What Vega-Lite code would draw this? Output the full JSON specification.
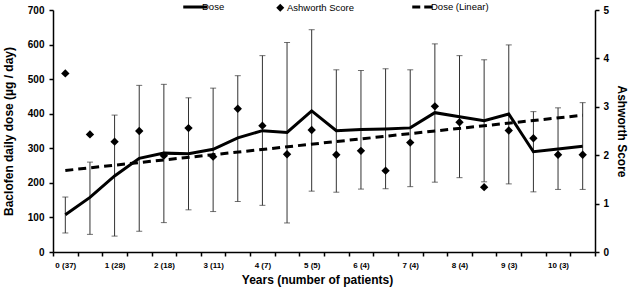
{
  "$schema": "https://vega.github.io/schema/vega-lite/v6.json",
  "width": 542,
  "height": 242,
  "autosize": {"type": "none"},
  "padding": {"left": 53, "top": 10, "right": 35, "bottom": 37},
  "background": "white",
  "config": {
    "view": {"stroke": null},
    "font": "Liberation Sans",
    "axis": {
      "grid": false,
      "domainColor": "black",
      "domainWidth": 1.5,
      "tickColor": "black",
      "tickWidth": 1.5,
      "tickSize": 4,
      "labelColor": "black",
      "labelFont": "Liberation Sans",
      "labelFontWeight": "bold",
      "labelOverlap": false,
      "labelFlush": false,
      "titleFont": "Liberation Sans",
      "titleFontWeight": "bold",
      "titleColor": "black",
      "titleFontSize": 12
    },
    "axisY": {"labelFontSize": 10}
  },
  "data": {
    "values": [
      {"idx": 0, "dose": 108, "low": 55, "high": 159, "ashworth": 3.69},
      {"idx": 1, "dose": 158, "low": 51, "high": 260, "ashworth": 2.43},
      {"idx": 2, "dose": 220, "low": 46, "high": 396, "ashworth": 2.28},
      {"idx": 3, "dose": 271, "low": 60, "high": 482, "ashworth": 2.5},
      {"idx": 4, "dose": 286, "low": 85, "high": 485, "ashworth": 1.99},
      {"idx": 5, "dose": 284, "low": 122, "high": 446, "ashworth": 2.56},
      {"idx": 6, "dose": 297, "low": 117, "high": 474, "ashworth": 1.97},
      {"idx": 7, "dose": 330, "low": 146, "high": 510, "ashworth": 2.96},
      {"idx": 8, "dose": 351, "low": 135, "high": 568, "ashworth": 2.61},
      {"idx": 9, "dose": 346, "low": 84, "high": 606, "ashworth": 2.02},
      {"idx": 10, "dose": 408, "low": 176, "high": 643, "ashworth": 2.52},
      {"idx": 11, "dose": 351, "low": 173, "high": 527, "ashworth": 2.01},
      {"idx": 12, "dose": 354, "low": 182, "high": 525, "ashworth": 2.09},
      {"idx": 13, "dose": 356, "low": 183, "high": 530, "ashworth": 1.68},
      {"idx": 14, "dose": 359, "low": 189, "high": 527, "ashworth": 2.26},
      {"idx": 15, "dose": 403, "low": 202, "high": 602, "ashworth": 3.01},
      {"idx": 16, "dose": 391, "low": 215, "high": 568, "ashworth": 2.68},
      {"idx": 17, "dose": 380, "low": 203, "high": 556, "ashworth": 1.34},
      {"idx": 18, "dose": 399, "low": 197, "high": 599, "ashworth": 2.51},
      {"idx": 19, "dose": 290, "low": 174, "high": 406, "ashworth": 2.35},
      {"idx": 20, "dose": 298, "low": 181, "high": 417, "ashworth": 2.01},
      {"idx": 21, "dose": 306, "low": 181, "high": 432, "ashworth": 2.01}
    ]
  },
  "encoding": {
    "x": {
      "field": "idx",
      "type": "ordinal",
      "title": "Years (number of patients)",
      "scale": {"type": "band", "domain": [0,1,2,3,4,5,6,7,8,9,10,11,12,13,14,15,16,17,18,19,20,21], "paddingInner": 0, "paddingOuter": 0},
      "axis": {
        "tickBand": "extent",
        "labelAngle": 0,
        "labelFontSize": 8,
        "labelPadding": 5,
        "labelExpr": "['0 (37)','','1 (28)','','2 (18)','','3 (11)','','4 (7)','','5 (5)','','6 (4)','','7 (4)','','8 (4)','','9 (3)','','10 (3)',''][datum.value]",
        "titlePadding": 5,
        "titleX": 264
      }
    }
  },
  "layer": [
    {
      "mark": {"type": "rule", "color": "#333333", "strokeWidth": 1},
      "encoding": {
        "y": {
          "field": "low",
          "type": "quantitative",
          "title": "Baclofen daily dose (µg / day)",
          "scale": {"domain": [0, 700], "nice": false},
          "axis": {"values": [0,100,200,300,400,500,600,700], "labelOverlap": false, "labelPadding": 5, "titlePadding": 12}
        },
        "y2": {"field": "high"}
      }
    },
    {
      "mark": {"type": "tick", "color": "#333333", "thickness": 1, "size": 6},
      "encoding": {
        "y": {"field": "high", "type": "quantitative", "scale": {"domain": [0, 700], "nice": false}, "axis": null}
      }
    },
    {
      "mark": {"type": "tick", "color": "#333333", "thickness": 1, "size": 6},
      "encoding": {
        "y": {"field": "low", "type": "quantitative", "scale": {"domain": [0, 700], "nice": false}, "axis": null}
      }
    },
    {
      "mark": {"type": "line", "strokeWidth": 3},
      "encoding": {
        "y": {"field": "dose", "type": "quantitative", "scale": {"domain": [0, 700], "nice": false}, "axis": null},
        "color": {
          "datum": "Dose",
          "scale": {"domain": ["Dose", "Ashworth Score", "Dose (Linear)"], "range": ["black", "black", "black"]},
          "legend": {
            "title": null,
            "orient": "none",
            "direction": "horizontal",
            "legendX": 145,
            "legendY": -8,
            "columnPadding": 51,
            "symbolSize": 576,
            "symbolOffset": -7.5,
            "labelFont": "Liberation Sans",
            "labelFontSize": 9.5,
            "labelColor": "black",
            "labelOffset": 2,
            "encode": {
              "symbols": {
                "update": {
                  "shape": {"signal": "datum.value === 'Ashworth Score' ? 'diamond' : 'stroke'"},
                  "size": {"signal": "datum.value === 'Ashworth Score' ? 64 : 576"},
                  "fill": {"signal": "datum.value === 'Ashworth Score' ? 'black' : 'transparent'"},
                  "stroke": {"value": "black"},
                  "strokeWidth": {"signal": "datum.value === 'Ashworth Score' ? 0 : 3"},
                  "strokeDash": {"signal": "datum.value === 'Dose (Linear)' ? [8, 4] : [1, 0]"},
                  "opacity": {"value": 1}
                }
              }
            }
          }
        }
      }
    },
    {
      "transform": [{"regression": "dose", "on": "idx"}],
      "mark": {"type": "line", "strokeWidth": 3, "strokeDash": [8, 5]},
      "encoding": {
        "y": {"field": "dose", "type": "quantitative", "scale": {"domain": [0, 700], "nice": false}, "axis": null},
        "color": {"datum": "Dose (Linear)"}
      }
    },
    {
      "mark": {"type": "point", "shape": "diamond", "filled": true, "size": 70, "opacity": 1},
      "encoding": {
        "y": {
          "field": "ashworth",
          "type": "quantitative",
          "title": "Ashworth Score",
          "scale": {"domain": [0, 5], "nice": false},
          "axis": {"orient": "right", "values": [0,1,2,3,4,5], "labelPadding": 4, "titlePadding": 6}
        },
        "color": {"datum": "Ashworth Score"}
      }
    }
  ],
  "resolve": {"scale": {"y": "independent"}}
}
